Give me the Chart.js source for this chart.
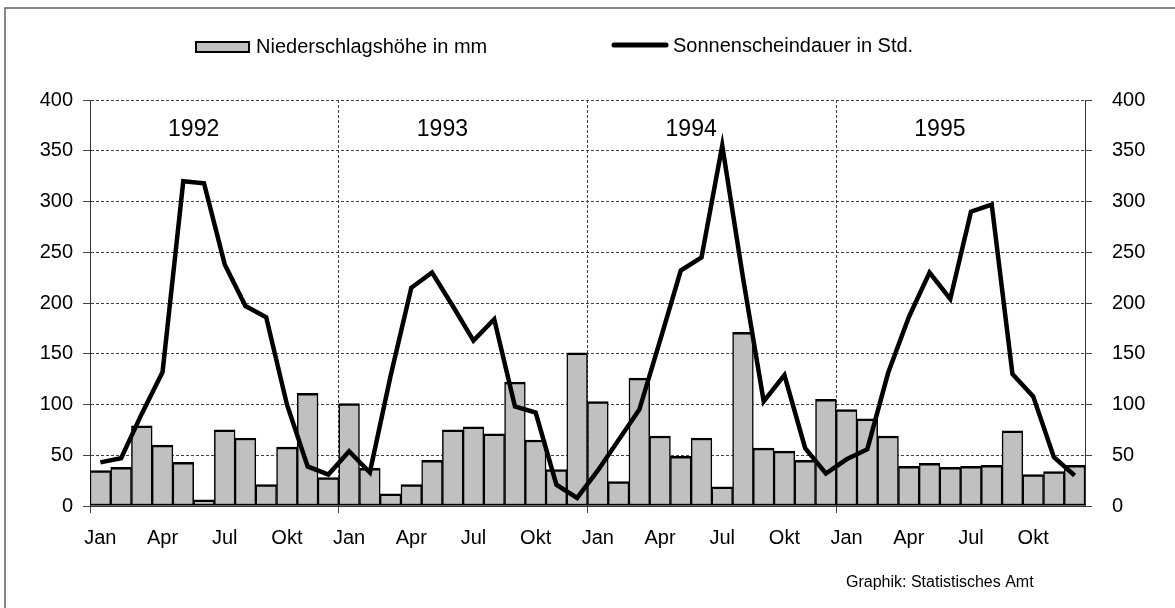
<!DOCTYPE html>
<html>
<head>
<meta charset="utf-8">
<script src="https://cdn.jsdelivr.net/npm/chart.js@4"></script>
<style>
  body { margin: 0; background: #fff; }
  #wrap { position: relative; width: 1175px; height: 608px; }
</style>
</head>
<body>
<div id="wrap"><canvas id="klimaChart"></canvas></div>
<script>
// Monate und Jahre
const months = ['Jan', 'Feb', 'Mär', 'Apr', 'Mai', 'Jun', 'Jul', 'Aug', 'Sep', 'Okt', 'Nov', 'Dez'];
const years = ['1992', '1993', '1994', '1995'];
const tickMonths = ['Jan', 'Apr', 'Jul', 'Okt'];

// Niederschlagshöhe in mm (Monatswerte 1992-1995)
const niederschlag = [
    35, 38, 79, 60, 43, 6, 75, 67, 21, 58, 111, 28,
    101, 37, 12, 21, 45, 75, 78, 71, 122, 65, 36, 151,
    103, 24, 126, 69, 49, 67, 19, 171, 57, 54, 45, 105,
    95, 86, 69, 39, 42, 38, 39, 40, 74, 31, 34, 40
];

// Sonnenscheindauer in Std.
const sonnenschein = [
    43, 47, 91, 132, 320, 318, 238, 197, 186, 100, 39, 31,
    54, 33, 128, 215, 230, 197, 163, 184, 98, 92, 21, 8,
    35, 65, 95, 163, 232, 245, 355, 225, 103, 129, 57, 32,
    46, 56, 131, 186, 230, 204, 290, 297, 130, 108, 48, 30
];

const yTicks = [0, 50, 100, 150, 200, 250, 300, 350, 400];

const labels = years.flatMap(y => months.map(m => m + ' ' + y));
const font = 'Arial, "Liberation Sans", sans-serif';
const gridColor = '#444';
const clear = 'rgba(0,0,0,0)';

// Rahmen, Legende, Jahreszahlen und Quelle
const extras = {
    id: 'extras',
    afterDraw(chart) {
        const ctx = chart.ctx;
        const x = chart.scales.x;
        ctx.save();

        ctx.strokeStyle = '#606060';
        ctx.lineWidth = 1.5;
        ctx.strokeRect(5, 8, 1200, 650);

        ctx.fillStyle = '#000';
        ctx.font = '23px ' + font;
        ctx.textAlign = 'center';
        ctx.textBaseline = 'alphabetic';
        years.forEach((y, i) => {
            const cx = (x.getPixelForValue(i * 12 + 4) + x.getPixelForValue(i * 12 + 5)) / 2;
            ctx.fillText(y, cx, 136);
        });

        // Legende
        ctx.fillStyle = '#c0c0c0';
        ctx.fillRect(196, 42, 53, 10);
        ctx.strokeStyle = '#000';
        ctx.lineWidth = 2;
        ctx.strokeRect(196, 42, 53, 10);
        ctx.beginPath();
        ctx.lineCap = 'round';
        ctx.lineWidth = 5;
        ctx.moveTo(614, 45);
        ctx.lineTo(666, 45);
        ctx.stroke();

        ctx.fillStyle = '#000';
        ctx.font = '20px ' + font;
        ctx.textAlign = 'left';
        ctx.textBaseline = 'middle';
        ctx.fillText(chart.data.datasets[1].label, 256, 47);
        ctx.fillText(chart.data.datasets[0].label, 673, 46);

        ctx.font = '16px ' + font;
        ctx.textBaseline = 'alphabetic';
        ctx.fillText('Graphik: Statistisches Amt', 846, 587);
        ctx.restore();
    }
};

const ctx = document.getElementById('klimaChart').getContext('2d');
new Chart(ctx, {
    data: {
        labels: labels,
        datasets: [{
            type: 'line',
            label: 'Sonnenscheindauer in Std.',
            data: sonnenschein,
            yAxisID: 'y1',
            borderColor: '#000',
            borderWidth: 4.5,
            borderJoinStyle: 'miter',
            pointRadius: 0,
            tension: 0,
            order: 0
        }, {
            type: 'bar',
            label: 'Niederschlagshöhe in mm',
            data: niederschlag,
            yAxisID: 'y',
            backgroundColor: '#c0c0c0',
            borderColor: '#000',
            borderWidth: { top: 2.5, left: 1.5, right: 1.5, bottom: 2 },
            borderSkipped: false,
            barPercentage: 1,
            categoryPercentage: 1,
            order: 1
        }]
    },
    options: {
        responsive: true,
        maintainAspectRatio: false,
        animation: false,
        layout: { padding: { top: 100 } },
        plugins: {
            legend: { display: false },
            tooltip: { enabled: false }
        },
        scales: {
            x: {
                afterFit: s => { s.height = 102; },
                grid: {
                    offset: true,
                    color: c => (c.index % 12 === 0 && c.index !== 0 && c.index !== 48) ? gridColor : clear,
                    tickColor: c => c.index % 12 === 0 ? gridColor : clear,
                    tickLength: 7
                },
                border: { display: true, color: '#333', dash: [3, 2] },
                ticks: {
                    autoSkip: false,
                    maxRotation: 0,
                    padding: 13,
                    color: '#000',
                    font: { family: font, size: 20 },
                    callback: (v, i) => i % 3 === 0 ? tickMonths[(i % 12) / 3] : ''
                }
            },
            y: {
                position: 'left',
                min: 0,
                max: 400,
                afterFit: s => { s.width = 90; },
                afterBuildTicks: s => { s.ticks = yTicks.map(v => ({ value: v })); },
                grid: { color: gridColor, tickColor: gridColor, tickLength: 7 },
                border: { display: true, color: '#333', dash: [3, 2] },
                ticks: { padding: 10, color: '#000', font: { family: font, size: 20 } }
            },
            y1: {
                position: 'right',
                min: 0,
                max: 400,
                afterFit: s => { s.width = 90; },
                afterBuildTicks: s => { s.ticks = yTicks.map(v => ({ value: v })); },
                grid: { drawOnChartArea: false, color: gridColor, tickColor: gridColor, tickLength: 7 },
                border: { display: true, color: '#333' },
                ticks: { padding: 20, color: '#000', font: { family: font, size: 20 } }
            }
        }
    },
    plugins: [extras]
});
</script>
</body>
</html>
